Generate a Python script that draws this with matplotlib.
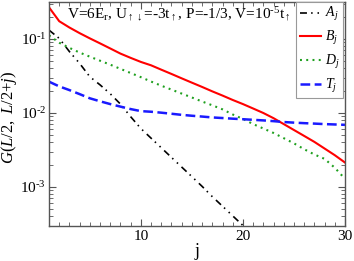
import matplotlib
matplotlib.use("Agg")
import math
import matplotlib.pyplot as plt
from matplotlib.ticker import MultipleLocator, LogLocator, NullFormatter, FuncFormatter

j_B = list(range(1, 31))
B = [0.268, 0.174, 0.143, 0.120, 0.102, 0.0873, 0.0745, 0.0635, 0.0556, 0.0490,
     0.0441, 0.0385, 0.0337, 0.0294, 0.0257, 0.0225, 0.0196, 0.0172, 0.0150, 0.0132,
     0.0115, 0.0100, 0.00851, 0.00708, 0.00589, 0.00490, 0.00407, 0.00331, 0.00269, 0.00214]

j_D = list(range(1, 31))
D = [0.112, 0.0891, 0.0759, 0.0656, 0.0577, 0.0509, 0.0450, 0.0395, 0.0347, 0.0305,
     0.0266, 0.0234, 0.0207, 0.0183, 0.0162, 0.0143, 0.0127, 0.0112, 0.00955, 0.00832,
     0.00708, 0.00617, 0.00537, 0.00457, 0.00389, 0.00324, 0.00275, 0.00240, 0.00182, 0.00129]

j_A = list(range(1, 22))
A = [0.132, 0.102, 0.0676, 0.0468, 0.0309, 0.0240, 0.0182, 0.0132, 0.00891, 0.00617,
     0.00457, 0.00339, 0.00251, 0.00186, 0.00138, 0.00102, 0.000741, 0.000550, 0.000407,
     0.000302, 0.000224]

j_T = list(range(1, 31))
T = [0.0265, 0.0229, 0.0204, 0.0180, 0.0158, 0.0144, 0.0132, 0.0122, 0.0113, 0.0106,
     0.0104, 0.0101, 0.00977, 0.00944, 0.00918, 0.00895, 0.00871, 0.00855, 0.00838, 0.00824,
     0.00809, 0.00794, 0.00776, 0.00755, 0.00741, 0.00729, 0.00719, 0.00708, 0.00700, 0.00692]

labels = [r"$A_j$", r"$B_j$", r"$D_j$", r"$T_j$"]
annotation = r"V=6E$_\mathrm{r}$, U$_{\uparrow\downarrow}$=-3t$_\uparrow$, P=-1/3, V=10$^{\text{-5}}$t$_\uparrow$"
xlabel = "j"
ylabel = r"$G(L/2,\ L/2{+}j)$"

plt.rcParams["font.family"] = ["Liberation Serif", "DejaVu Serif"]
plt.rcParams["mathtext.fontset"] = "custom"
plt.rcParams["mathtext.rm"] = "Liberation Serif"
plt.rcParams["mathtext.it"] = "Liberation Serif:italic"
plt.rcParams["mathtext.bf"] = "Liberation Serif:bold"
plt.rcParams["lines.scale_dashes"] = False

fig = plt.figure(figsize=(3.54, 2.61), dpi=100)
ax = fig.add_axes([49/354, 1-226/261, (345-49)/354, (226-2)/261])

ax.plot(j_A, A, color="black", lw=1.2, linestyle=(0, (5, 3, 1.1, 3.5, 1.1, 3.5)), label=labels[0])
ax.plot(j_B, B, color="#ff0000", lw=1.5, linestyle="-", label=labels[1])
ax.plot(j_D, D, color="#1fa01f", lw=1.5, linestyle=(0, (1.4, 3.1)), label=labels[2])
ax.plot(j_T, T, color="#1a1aff", lw=1.8, linestyle=(0, (7, 3.2)), label=labels[3])

ax.set_yscale("log")
ax.set_xlim(1, 30)
ax.set_ylim(10**-3.527, 10**-0.5)
ax.xaxis.set_major_locator(MultipleLocator(10))
ax.xaxis.set_minor_locator(MultipleLocator(1))
ax.yaxis.set_major_locator(LogLocator(base=10, numticks=10))
ax.yaxis.set_major_formatter(FuncFormatter(lambda v, p: r"10$^{\text{%d}}$" % round(math.log10(v))))
ax.yaxis.set_minor_locator(LogLocator(base=10, subs=range(2, 10), numticks=20))
ax.yaxis.set_minor_formatter(NullFormatter())
ax.tick_params(which="both", direction="in", top=True, right=True, color="#555555")
ax.tick_params(axis="x", labelsize=11, pad=3)
ax.tick_params(axis="y", labelsize=11, pad=2)
ax.tick_params(which="major", length=5, width=0.8)
ax.tick_params(which="minor", length=3, width=0.6)
for s in ax.spines.values():
    s.set_color("#555555")
    s.set_linewidth(1.0)

ax.set_xlabel(xlabel, fontsize=13, labelpad=0)
ax.set_ylabel(ylabel, fontsize=12)
ax.yaxis.set_label_coords((19-49)/296, 0.487)

fig.text(179/354, 1-15/261, annotation, fontsize=11, ha="center", va="center")

leg = ax.legend(loc="upper right", bbox_to_anchor=(343/354, 1-2/261), bbox_transform=fig.transFigure,
                fontsize=10, frameon=True, fancybox=False, framealpha=1, edgecolor="#999999",
                handlelength=1.55, handletextpad=0.25, labelspacing=0.42, borderpad=0.25, borderaxespad=0)
leg.get_frame().set_linewidth(0.8)

fig.savefig("out.png", dpi=100)
